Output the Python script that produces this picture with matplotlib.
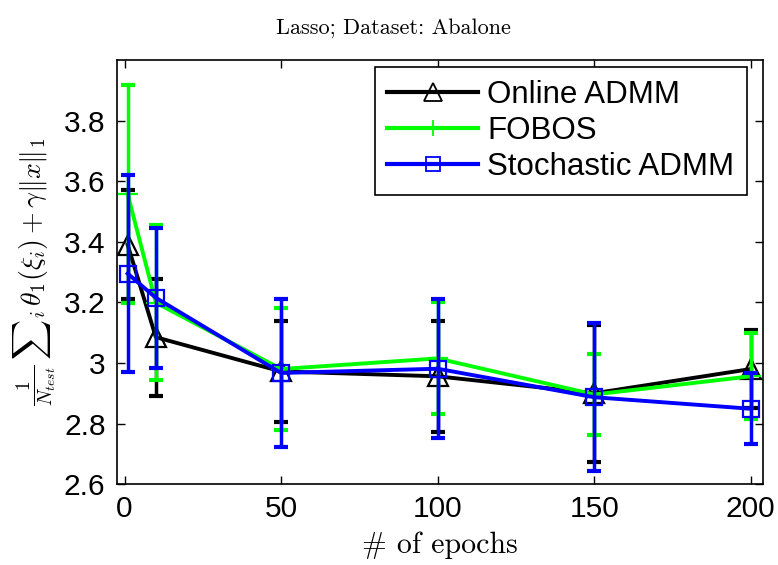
import matplotlib
matplotlib.use('Agg')
import matplotlib.pyplot as plt
from matplotlib.lines import Line2D

plt.rcParams['font.family'] = ['Liberation Sans', 'DejaVu Sans']
plt.rcParams['mathtext.fontset'] = 'cm'

epochs = [1, 10, 50, 100, 150, 200]

online_mean = [3.39, 3.085, 2.972, 2.956, 2.90, 2.98]
online_err = [0.18, 0.193, 0.167, 0.184, 0.226, 0.13]

fobos_mean = [3.557, 3.199, 2.98, 3.015, 2.896, 2.956]
fobos_err = [0.36, 0.255, 0.20, 0.185, 0.134, 0.142]

sadmm_mean = [3.295, 3.215, 2.967, 2.981, 2.887, 2.849]
sadmm_err = [0.324, 0.23, 0.244, 0.23, 0.244, 0.117]

xticks = [0, 50, 100, 150, 200]
yticks = [2.6, 2.8, 3.0, 3.2, 3.4, 3.6, 3.8]
yticklabels = ['2.6', '2.8', '3', '3.2', '3.4', '3.6', '3.8']

fig = plt.figure(figsize=(7.78, 5.65), dpi=100)
ax = fig.add_axes([0.150, 0.143, 0.831, 0.751])

styles = [
    (online_mean, online_err, 'k', '^', 15, 'Online ADMM'),
    (fobos_mean, fobos_err, '#00ff00', '+', 14, 'FOBOS'),
    (sadmm_mean, sadmm_err, '#0000ff', 's', 12, 'Stochastic ADMM'),
]
handles = []
for i, (m, e, c, mk, ms, lab) in enumerate(styles):
    ax.errorbar(epochs, m, yerr=e, fmt='none', ecolor=c, elinewidth=2.5,
                capsize=4.7, capthick=3, zorder=2 + i)
    ax.plot(epochs, m, color=c, lw=2.8, marker=mk, ms=ms, mfc='none',
            mec=c, mew=1.6, zorder=2 + i)
    handles.append(Line2D([], [], color=c, lw=3, marker=mk, ms=ms * 0.85,
                          mfc='none', mec=c, mew=1.3, label=lab))

ax.set_xlim(-2.5, 204)
ax.set_ylim(2.6, 4.0)
ax.set_xticks(xticks)
ax.set_yticks(yticks)
ax.set_yticklabels(yticklabels)
ax.tick_params(direction='in', labelsize=21.5, width=1, length=6, top=True, right=True, pad=8)
for s in ax.spines.values():
    s.set_linewidth(1.2)

fig.text(0.506, 1 - 28 / 565, 'Lasso; Dataset: Abalone', fontsize=16, family='cmr10',
         ha='center', va='center')
ax.set_xlabel('# of epochs', fontsize=21.5, labelpad=6, family='cmr10')
ax.set_ylabel(r'$\frac{1}{N_{test}}\,{\sum}_i\,\theta_1(\xi_i)+\gamma\|x\|_1$', fontsize=20, labelpad=4)

leg = ax.legend(handles=handles, loc='upper right', fontsize=22.5, fancybox=False, edgecolor='k',
                framealpha=1, handlelength=2.9, handletextpad=0.3, borderpad=0.4,
                labelspacing=0.2, bbox_to_anchor=(0.975, 0.983), borderaxespad=0)
leg.get_frame().set_linewidth(1.2)

fig.savefig('out.png', dpi=100)
